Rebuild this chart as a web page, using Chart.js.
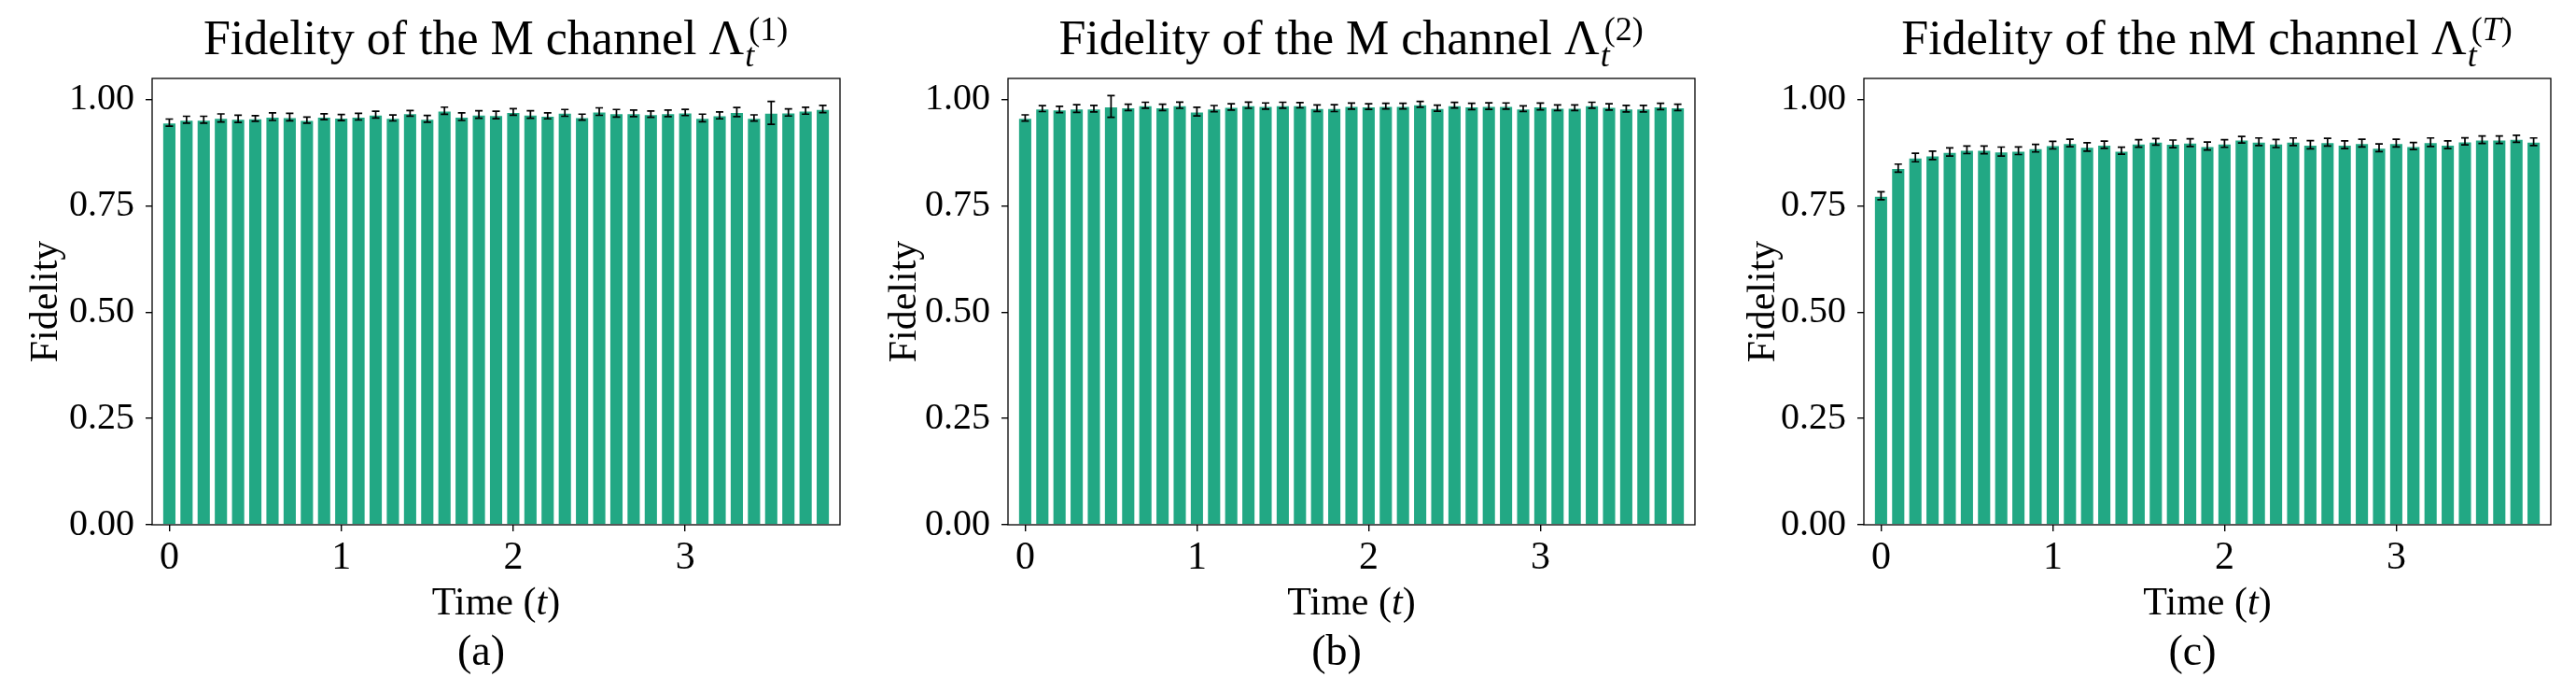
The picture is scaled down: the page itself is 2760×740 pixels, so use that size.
<!DOCTYPE html>
<html>
<head>
<meta charset="utf-8">
<script src="https://cdn.jsdelivr.net/npm/chart.js@4"></script>
<style>
  body { margin: 0; background: #fff; }
  .panel { position: absolute; top: 0; width: 920px; height: 740px; }
</style>
</head>
<body>
<div class="panel" style="left:0px"><canvas id="chart-a" width="920" height="740"></canvas></div>
<div class="panel" style="left:920px"><canvas id="chart-b" width="920" height="740"></canvas></div>
<div class="panel" style="left:1840px"><canvas id="chart-c" width="920" height="740"></canvas></div>
<script>
// datos
const timeSteps = [0, 0.1, 0.2, 0.3, 0.4, 0.5, 0.6, 0.7, 0.8, 0.9, 1.0, 1.1, 1.2, 1.3, 1.4, 1.5, 1.6, 1.7, 1.8, 1.9,
  2.0, 2.1, 2.2, 2.3, 2.4, 2.5, 2.6, 2.7, 2.8, 2.9, 3.0, 3.1, 3.2, 3.3, 3.4, 3.5, 3.6, 3.7, 3.8];

const fidelityM1 = [0.946, 0.953, 0.953, 0.957, 0.955, 0.956, 0.960, 0.959, 0.952, 0.960, 0.958, 0.960, 0.965, 0.957, 0.968, 0.955, 0.974, 0.960, 0.965, 0.964,
  0.971, 0.965, 0.962, 0.969, 0.959, 0.972, 0.968, 0.968, 0.966, 0.968, 0.970, 0.957, 0.963, 0.971, 0.957, 0.969, 0.970, 0.974, 0.978];
const errorM1 = [0.0084, 0.008, 0.008, 0.0095, 0.0085, 0.0066, 0.0088, 0.0088, 0.0073, 0.007, 0.007, 0.0077, 0.008, 0.007, 0.0066, 0.008, 0.0084, 0.0088, 0.0088, 0.0088,
  0.0077, 0.0088, 0.007, 0.008, 0.007, 0.0088, 0.009, 0.0077, 0.0073, 0.0077, 0.0073, 0.009, 0.008, 0.0106, 0.0073, 0.027, 0.0084, 0.008, 0.0084];

const fidelityM2 = [0.957, 0.979, 0.977, 0.979, 0.979, 0.984, 0.982, 0.987, 0.982, 0.987, 0.972, 0.979, 0.983, 0.987, 0.985, 0.987, 0.987, 0.980, 0.980, 0.985,
  0.984, 0.985, 0.985, 0.989, 0.980, 0.987, 0.984, 0.985, 0.985, 0.979, 0.984, 0.981, 0.981, 0.987, 0.983, 0.979, 0.979, 0.984, 0.982];
const errorM2 = [0.0073, 0.007, 0.0073, 0.009, 0.0077, 0.0256, 0.0073, 0.007, 0.0073, 0.0073, 0.01, 0.0073, 0.0073, 0.0073, 0.0073, 0.007, 0.0062, 0.0077, 0.008, 0.007,
  0.0066, 0.0066, 0.0066, 0.007, 0.0073, 0.0066, 0.0073, 0.0077, 0.0073, 0.0066, 0.008, 0.0066, 0.0066, 0.007, 0.0073, 0.0077, 0.0077, 0.0073, 0.0073];

const fidelityNM = [0.774, 0.839, 0.864, 0.869, 0.877, 0.882, 0.882, 0.878, 0.880, 0.886, 0.893, 0.898, 0.889, 0.894, 0.880, 0.897, 0.901, 0.896, 0.899, 0.891,
  0.897, 0.906, 0.901, 0.897, 0.901, 0.894, 0.900, 0.894, 0.898, 0.887, 0.898, 0.891, 0.900, 0.894, 0.902, 0.906, 0.906, 0.908, 0.901];
const errorNM = [0.0095, 0.0095, 0.01, 0.0099, 0.0095, 0.0088, 0.009, 0.0106, 0.009, 0.009, 0.0088, 0.0088, 0.0099, 0.0084, 0.0084, 0.0088, 0.0077, 0.009, 0.009, 0.0095,
  0.009, 0.0077, 0.009, 0.0095, 0.009, 0.0095, 0.009, 0.009, 0.009, 0.009, 0.009, 0.0084, 0.01, 0.009, 0.0084, 0.0088, 0.0088, 0.0084, 0.009];

const xTicks = [0, 1, 2, 3];
const yTicks = [0, 0.25, 0.5, 0.75, 1.0];

const serif = '"Liberation Serif", "Times New Roman", serif';
const verde = "#22a884";

// barras de error, marco y textos
const extras = {
  id: "extras",
  afterDatasetsDraw(chart, args, opts) {
    const ctx = chart.ctx;
    const { left, right, top, bottom } = chart.chartArea;
    const ys = chart.scales.y;
    const ds = chart.data.datasets[0];
    const meta = chart.getDatasetMeta(0);
    ctx.save();
    ctx.strokeStyle = "#000";
    ctx.lineWidth = 1.7;
    meta.data.forEach((bar, i) => {
      const v = ds.data[i].y;
      const e = ds.errores[i];
      const y1 = ys.getPixelForValue(v + e);
      const y2 = ys.getPixelForValue(v - e);
      ctx.beginPath();
      ctx.moveTo(bar.x, y1); ctx.lineTo(bar.x, y2);
      ctx.moveTo(bar.x - 4, y1); ctx.lineTo(bar.x + 4, y1);
      ctx.moveTo(bar.x - 4, y2); ctx.lineTo(bar.x + 4, y2);
      ctx.stroke();
    });
    ctx.lineWidth = 1.3;
    ctx.strokeRect(left, top, right - left, bottom - top);
    ctx.restore();
  },
  afterDraw(chart, args, opts) {
    const ctx = chart.ctx;
    const { left, right, top, bottom } = chart.chartArea;
    const cx = (left + right) / 2;
    ctx.save();
    ctx.fillStyle = "#000";
    ctx.textAlign = "left";
    ctx.textBaseline = "alphabetic";

    // titulo con Lambda_t^(..)
    const base = "Fidelity of the " + opts.tipo + " channel \u039B";
    ctx.font = "52px " + serif;
    const wBase = ctx.measureText(base).width;
    ctx.font = "italic 36px " + serif;
    const wSub = ctx.measureText("t").width;
    let wSup = 0;
    opts.sup.forEach(p => {
      ctx.font = (p[1] ? "italic " : "") + "36px " + serif;
      wSup += ctx.measureText(p[0]).width;
    });
    const total = wBase + 2 + Math.max(wSub, wSup + 4);
    let x0 = cx - total / 2;
    ctx.font = "52px " + serif;
    ctx.fillText(base, x0, 58);
    ctx.font = "italic 36px " + serif;
    ctx.fillText("t", x0 + wBase + 1, 71);
    let xs = x0 + wBase + 5;
    opts.sup.forEach(p => {
      ctx.font = (p[1] ? "italic " : "") + "36px " + serif;
      ctx.fillText(p[0], xs, 43);
      xs += ctx.measureText(p[0]).width;
    });

    // etiqueta eje x: Time (t)
    ctx.font = "42px " + serif;
    const a = "Time (", c = ")";
    const wa = ctx.measureText(a).width, wc = ctx.measureText(c).width;
    ctx.font = "italic 42px " + serif;
    const wt = ctx.measureText("t").width;
    let xt = cx - (wa + wt + wc) / 2;
    ctx.font = "42px " + serif;
    ctx.fillText(a, xt, 658);
    ctx.font = "italic 42px " + serif;
    ctx.fillText("t", xt + wa, 658);
    ctx.font = "42px " + serif;
    ctx.fillText(c, xt + wa + wt, 658);

    // letra del panel
    ctx.textAlign = "center";
    ctx.font = "46px " + serif;
    ctx.fillText(opts.letra, cx - 16, 712);

    // etiqueta eje y
    ctx.translate(61, (top + bottom) / 2);
    ctx.rotate(-Math.PI / 2);
    ctx.font = "42px " + serif;
    ctx.fillText("Fidelity", 0, 0);
    ctx.restore();
  }
};

const crearPanel = (id, valores, errores, tipo, sup, letra, izq, der) => {
  const contenedor = document.querySelector(id).getContext("2d");
  const datos = {
    datasets: [
      {
        data: timeSteps.map((t, i) => ({ x: t, y: valores[i] })),
        errores: errores,
        backgroundColor: verde,
        borderColor: "rgba(255,255,255,0.55)",
        borderWidth: 1,
        barPercentage: 0.82,
        categoryPercentage: 1.0,
      },
    ],
  };
  const config = {
    type: "bar",
    data: datos,
    options: {
      responsive: false,
      animation: false,
      layout: { padding: { top: 84, left: 0, right: 920 - der, bottom: 0 } },
      plugins: {
        legend: { display: false },
        tooltip: { enabled: false },
        extras: { tipo: tipo, sup: sup, letra: letra },
      },
      scales: {
        x: {
          type: "linear",
          min: -0.1,
          max: 3.9,
          offset: false,
          afterBuildTicks: s => { s.ticks = xTicks.map(v => ({ value: v })); },
          afterFit: s => { s.height = 740 - 562; },
          ticks: {
            color: "#000",
            font: { family: serif, size: 42 },
            padding: 4,
            autoSkip: false,
            maxRotation: 0,
            callback: v => String(v),
          },
          grid: { offset: false, drawOnChartArea: false, tickLength: 7, lineWidth: 1.4, color: "#000" },
          border: { display: false },
        },
        y: {
          min: 0,
          max: 1.05,
          afterBuildTicks: s => { s.ticks = yTicks.map(v => ({ value: v })); },
          afterFit: s => { s.width = izq; },
          ticks: {
            color: "#000",
            font: { family: serif, size: 40 },
            padding: 12,
            callback: v => v.toFixed(2),
          },
          grid: { drawOnChartArea: false, tickLength: 7, lineWidth: 1.4, color: "#000" },
          border: { display: false },
        },
      },
    },
    plugins: [extras],
  };
  return new Chart(contenedor, config);
};

const chartA = crearPanel("#chart-a", fidelityM1, errorM1, "M", [["(1)", false]], "(a)", 163, 900);
const chartB = crearPanel("#chart-b", fidelityM2, errorM2, "M", [["(2)", false]], "(b)", 160, 896);
const chartC = crearPanel("#chart-c", fidelityNM, errorNM, "nM", [["(", false], ["T", true], [")", false]], "(c)", 157, 893);
</script>
</body>
</html>
